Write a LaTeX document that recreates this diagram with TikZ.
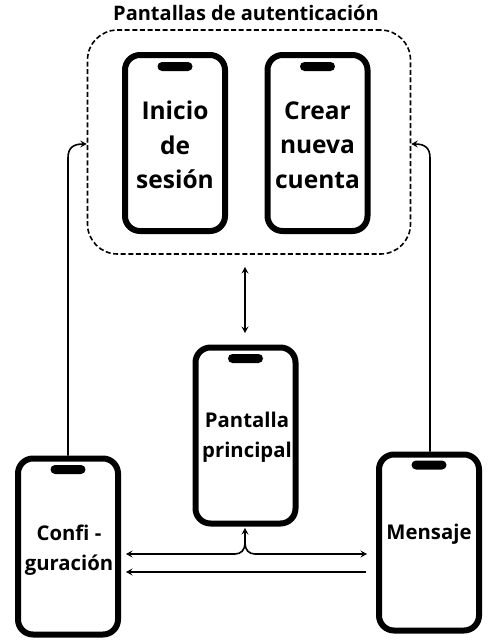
\documentclass[tikz,border=0pt]{standalone}
\usepackage{fontspec}
\setmainfont{Open Sans}
\usetikzlibrary{arrows.meta,positioning}
\tikzset{
 phone/.style={draw=black,line width=6pt,rounded corners=15pt,fill=white,minimum width=100pt,minimum height=176pt,inner sep=0pt},
 notch/.style={fill=black,rounded corners=4.5pt,minimum width=35pt,minimum height=9pt,inner sep=0pt},
 big/.style={font=\bfseries\fontsize{24.5}{34.5}\selectfont,align=center,inner sep=0pt},
 small/.style={font=\bfseries\fontsize{20.3}{30.5}\selectfont,align=center,inner sep=0pt},
 link/.style={line width=1.6pt,black},
 tip/.style={-{Stealth[length=6.5pt,width=7pt,inset=2.5pt]}},
 tips/.style={{Stealth[length=6.5pt,width=7pt,inset=2.5pt]}-{Stealth[length=6.5pt,width=7pt,inset=2.5pt]}},
}
\begin{document}
\begin{tikzpicture}[x=1pt,y=-1pt]
\useasboundingbox (0,0) rectangle (498,640);
\node[draw=black,line width=1.6pt,dash pattern=on 5pt off 2.6pt,rounded corners=30pt,minimum width=323pt,minimum height=224pt,inner sep=0pt] (auth) at (249,142) {};
\node[font=\bfseries\fontsize{20}{24}\selectfont,inner sep=0pt] (title) at (246,13) {Pantallas de autenticación};
\node[phone] (inicio) at (175,143) {};
\node[notch] (ninicio) at (175,66.5) {};
\node[big] (tinicio) at (175,145) {Inicio\\de\\sesión};
\node[phone] (crear) at (317.5,143) {};
\node[notch] (ncrear) at (317.5,66.5) {};
\node[big] (tcrear) at (317.5,145) {Crear\\nueva\\cuenta};
\node[phone] (princ) at (245.5,435.5) {};
\node[notch] (nprinc) at (245.5,358.5) {};
\node[small] (tprinc) at (247,437) {Pantalla\\principal};
\node[phone] (conf) at (68,546.5) {};
\node[notch] (nconf) at (68,469.5) {};
\node[small] (tconf) at (69,550) {Confi -\\guración};
\node[phone] (mens) at (429,542.5) {};
\node[notch] (nmens) at (429,465) {};
\node[small] (tmens) at (429,534) {Mensaje};
\coordinate (authtop) at (245,267);
\coordinate (princtop) at (245,333);
\coordinate (aleft) at (auth.west |- 0,144);
\coordinate (aright) at (auth.east |- 0,144);
\coordinate (pb) at (245,528);
\coordinate (jl) at (126,554);
\coordinate (jr) at (367,554);
\coordinate (rl) at (126,572);
\coordinate (rr) at (366,572);
\draw[link,tips] (authtop) -- (princtop);
\draw[link,tip] (conf.north -| 68,0) -- (68,158) .. controls (68,148) and (73,144) .. (aleft);
\draw[link,tip] (mens.north -| 430,0) -- (430,158) .. controls (430,148) and (425,144) .. (aright);
\draw[link,tips] (jl) -- (235,554) .. controls (241,554) and (245,550) .. (245,543) -- (pb);
\draw[link,tip] (245,543) .. controls (245,550) and (249,554) .. (255,554) -- (jr);
\draw[link,tip] (rr) -- (rl);
\end{tikzpicture}
\end{document}
